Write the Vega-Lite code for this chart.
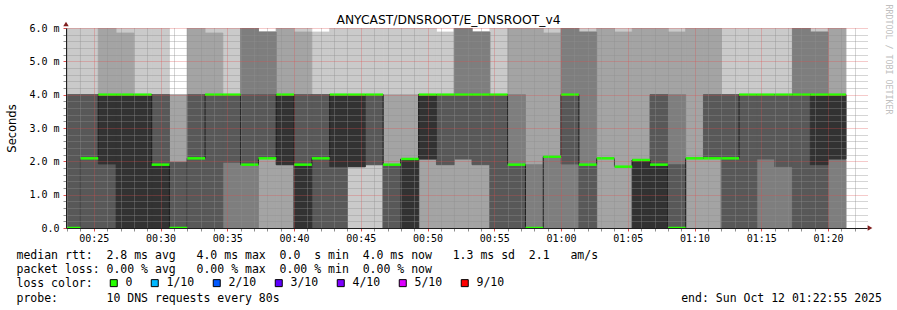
{
"$schema":"https://vega.github.io/schema/vega-lite/v6.json",
"width":801,"height":200,
"autosize":{"type":"none"},
"padding":{"left":66,"top":28,"right":30,"bottom":82},
"background":"white",
"config":{"view":{"stroke":null}},
"datasets":{
"steps":[
{"t":"2025-10-12T00:22:40Z","e":"2025-10-12T00:24:00Z","p1":0,"p2":0,"p3":0,"p4":0,"p5":0,"p6":0,"p7":4,"p8":4,"p9":4,"p10":6,"med":0,"loss":"0"},
{"t":"2025-10-12T00:24:00Z","e":"2025-10-12T00:25:20Z","p1":0,"p2":0,"p3":0,"p4":0,"p5":2.09,"p6":2.09,"p7":4,"p8":4,"p9":4,"p10":6,"med":2.09,"loss":"0"},
{"t":"2025-10-12T00:25:20Z","e":"2025-10-12T00:26:40Z","p1":0,"p2":0,"p3":0,"p4":0,"p5":1.92,"p6":4,"p7":4,"p8":4,"p9":6,"p10":6,"med":4,"loss":"0"},
{"t":"2025-10-12T00:26:40Z","e":"2025-10-12T00:28:00Z","p1":0,"p2":0,"p3":0,"p4":0,"p5":0,"p6":4,"p7":4,"p8":4,"p9":5.85,"p10":6,"med":4,"loss":"0"},
{"t":"2025-10-12T00:28:00Z","e":"2025-10-12T00:29:20Z","p1":0,"p2":0,"p3":0,"p4":0,"p5":0,"p6":4,"p7":4,"p8":4,"p9":4,"p10":6,"med":4,"loss":"0"},
{"t":"2025-10-12T00:29:20Z","e":"2025-10-12T00:30:40Z","p1":0,"p2":0,"p3":0,"p4":0,"p5":0,"p6":1.9,"p7":4,"p8":4,"p9":4,"p10":6,"med":1.9,"loss":"0"},
{"t":"2025-10-12T00:30:40Z","e":"2025-10-12T00:32:00Z","p1":0,"p2":0,"p3":0,"p4":0,"p5":0,"p6":0,"p7":1.97,"p8":1.97,"p9":4,"p10":4,"med":0,"loss":"0"},
{"t":"2025-10-12T00:32:00Z","e":"2025-10-12T00:33:20Z","p1":0,"p2":0,"p3":0,"p4":0,"p5":2.09,"p6":2.09,"p7":4,"p8":4,"p9":6,"p10":6,"med":2.09,"loss":"0"},
{"t":"2025-10-12T00:33:20Z","e":"2025-10-12T00:34:40Z","p1":0,"p2":0,"p3":0,"p4":0,"p5":4,"p6":4,"p7":4,"p8":4,"p9":5.85,"p10":6,"med":4,"loss":"0"},
{"t":"2025-10-12T00:34:40Z","e":"2025-10-12T00:36:00Z","p1":0,"p2":0,"p3":0,"p4":1.97,"p5":4,"p6":4,"p7":4,"p8":4,"p9":4,"p10":6,"med":4,"loss":"0"},
{"t":"2025-10-12T00:36:00Z","e":"2025-10-12T00:37:20Z","p1":0,"p2":0,"p3":0,"p4":1.9,"p5":1.9,"p6":1.9,"p7":4,"p8":6,"p9":6,"p10":6,"med":1.9,"loss":"0"},
{"t":"2025-10-12T00:37:20Z","e":"2025-10-12T00:38:40Z","p1":0,"p2":0,"p3":2.09,"p4":2.09,"p5":2.09,"p6":2.09,"p7":4,"p8":5.88,"p9":5.88,"p10":5.88,"med":2.09,"loss":"0"},
{"t":"2025-10-12T00:38:40Z","e":"2025-10-12T00:40:00Z","p1":0,"p2":0,"p3":1.9,"p4":1.9,"p5":1.9,"p6":4,"p7":4,"p8":4,"p9":6,"p10":6,"med":4,"loss":"0"},
{"t":"2025-10-12T00:40:00Z","e":"2025-10-12T00:41:20Z","p1":0,"p2":0,"p3":0,"p4":0,"p5":0,"p6":1.9,"p7":4,"p8":4,"p9":5.88,"p10":6,"med":1.9,"loss":"0"},
{"t":"2025-10-12T00:41:20Z","e":"2025-10-12T00:42:40Z","p1":0,"p2":0,"p3":0,"p4":0,"p5":2.09,"p6":2.09,"p7":4,"p8":4,"p9":4,"p10":5.88,"med":2.09,"loss":"0"},
{"t":"2025-10-12T00:42:40Z","e":"2025-10-12T00:44:00Z","p1":0,"p2":0,"p3":0,"p4":0,"p5":1.84,"p6":4,"p7":4,"p8":4,"p9":4,"p10":6,"med":4,"loss":"0"},
{"t":"2025-10-12T00:44:00Z","e":"2025-10-12T00:45:20Z","p1":0,"p2":1.84,"p3":1.84,"p4":1.84,"p5":1.84,"p6":4,"p7":4,"p8":4,"p9":4,"p10":6,"med":4,"loss":"0"},
{"t":"2025-10-12T00:45:20Z","e":"2025-10-12T00:46:40Z","p1":0,"p2":1.9,"p3":1.9,"p4":1.9,"p5":4,"p6":4,"p7":4,"p8":4,"p9":4,"p10":6,"med":4,"loss":"0"},
{"t":"2025-10-12T00:46:40Z","e":"2025-10-12T00:48:00Z","p1":0,"p2":0,"p3":0,"p4":0,"p5":1.9,"p6":1.9,"p7":1.9,"p8":1.9,"p9":4,"p10":6,"med":1.9,"loss":"0"},
{"t":"2025-10-12T00:48:00Z","e":"2025-10-12T00:49:20Z","p1":0,"p2":0,"p3":0,"p4":0,"p5":0,"p6":2.07,"p7":2.07,"p8":2.07,"p9":4,"p10":6,"med":2.07,"loss":"0"},
{"t":"2025-10-12T00:49:20Z","e":"2025-10-12T00:50:40Z","p1":0,"p2":0,"p3":2.07,"p4":2.07,"p5":2.07,"p6":4,"p7":4,"p8":4,"p9":4,"p10":6,"med":4,"loss":"0"},
{"t":"2025-10-12T00:50:40Z","e":"2025-10-12T00:52:00Z","p1":0,"p2":0,"p3":1.9,"p4":1.9,"p5":4,"p6":4,"p7":4,"p8":4,"p9":4,"p10":5.88,"med":4,"loss":"0"},
{"t":"2025-10-12T00:52:00Z","e":"2025-10-12T00:53:20Z","p1":0,"p2":0,"p3":2.07,"p4":2.07,"p5":4,"p6":4,"p7":4,"p8":6,"p9":6,"p10":6,"med":4,"loss":"0"},
{"t":"2025-10-12T00:53:20Z","e":"2025-10-12T00:54:40Z","p1":0,"p2":0,"p3":1.9,"p4":1.9,"p5":4,"p6":4,"p7":4,"p8":5.88,"p9":5.88,"p10":5.88,"med":4,"loss":"0"},
{"t":"2025-10-12T00:54:40Z","e":"2025-10-12T00:56:00Z","p1":0,"p2":0,"p3":0,"p4":0,"p5":4,"p6":4,"p7":4,"p8":4,"p9":4,"p10":6,"med":4,"loss":"0"},
{"t":"2025-10-12T00:56:00Z","e":"2025-10-12T00:57:20Z","p1":0,"p2":0,"p3":0,"p4":0,"p5":1.9,"p6":1.9,"p7":1.9,"p8":4,"p9":6,"p10":6,"med":1.9,"loss":"0"},
{"t":"2025-10-12T00:57:20Z","e":"2025-10-12T00:58:40Z","p1":0,"p2":0,"p3":0,"p4":0,"p5":0,"p6":0,"p7":0,"p8":1.9,"p9":6,"p10":6,"med":0,"loss":"0"},
{"t":"2025-10-12T00:58:40Z","e":"2025-10-12T01:00:00Z","p1":0,"p2":0,"p3":0,"p4":2.14,"p5":2.14,"p6":2.14,"p7":2.14,"p8":2.14,"p9":5.85,"p10":6,"med":2.14,"loss":"0"},
{"t":"2025-10-12T01:00:00Z","e":"2025-10-12T01:01:20Z","p1":0,"p2":0,"p3":0,"p4":1.92,"p5":4,"p6":4,"p7":4,"p8":6,"p9":6,"p10":6,"med":4,"loss":"0"},
{"t":"2025-10-12T01:01:20Z","e":"2025-10-12T01:02:40Z","p1":0,"p2":0,"p3":0,"p4":0,"p5":1.9,"p6":1.9,"p7":1.9,"p8":5.88,"p9":5.88,"p10":6,"med":1.9,"loss":"0"},
{"t":"2025-10-12T01:02:40Z","e":"2025-10-12T01:04:00Z","p1":0,"p2":0,"p3":2.09,"p4":2.09,"p5":2.09,"p6":2.09,"p7":2.09,"p8":2.09,"p9":6,"p10":6,"med":2.09,"loss":"0"},
{"t":"2025-10-12T01:04:00Z","e":"2025-10-12T01:05:20Z","p1":0,"p2":0,"p3":1.84,"p4":1.84,"p5":1.84,"p6":1.84,"p7":1.84,"p8":1.84,"p9":5.88,"p10":6,"med":1.84,"loss":"0"},
{"t":"2025-10-12T01:05:20Z","e":"2025-10-12T01:06:40Z","p1":0,"p2":0,"p3":0,"p4":0,"p5":0,"p6":2.04,"p7":2.04,"p8":2.04,"p9":6,"p10":6,"med":2.04,"loss":"0"},
{"t":"2025-10-12T01:06:40Z","e":"2025-10-12T01:08:00Z","p1":0,"p2":0,"p3":0,"p4":0,"p5":0,"p6":1.9,"p7":4,"p8":4,"p9":6,"p10":6,"med":1.9,"loss":"0"},
{"t":"2025-10-12T01:08:00Z","e":"2025-10-12T01:09:20Z","p1":0,"p2":0,"p3":0,"p4":0,"p5":0,"p6":0,"p7":1.9,"p8":4,"p9":5.88,"p10":6,"med":0,"loss":"0"},
{"t":"2025-10-12T01:09:20Z","e":"2025-10-12T01:10:40Z","p1":0,"p2":0,"p3":2.09,"p4":2.09,"p5":2.09,"p6":2.09,"p7":2.09,"p8":2.09,"p9":6,"p10":6,"med":2.09,"loss":"0"},
{"t":"2025-10-12T01:10:40Z","e":"2025-10-12T01:12:00Z","p1":0,"p2":0,"p3":2.09,"p4":2.09,"p5":2.09,"p6":2.09,"p7":4,"p8":4,"p9":6,"p10":6,"med":2.09,"loss":"0"},
{"t":"2025-10-12T01:12:00Z","e":"2025-10-12T01:13:20Z","p1":0,"p2":0,"p3":0,"p4":0,"p5":2.09,"p6":2.09,"p7":4,"p8":4,"p9":4,"p10":6,"med":2.09,"loss":"0"},
{"t":"2025-10-12T01:13:20Z","e":"2025-10-12T01:14:40Z","p1":0,"p2":0,"p3":0,"p4":0,"p5":4,"p6":4,"p7":4,"p8":4,"p9":4,"p10":6,"med":4,"loss":"0"},
{"t":"2025-10-12T01:14:40Z","e":"2025-10-12T01:16:00Z","p1":0,"p2":0,"p3":0,"p4":2.07,"p5":4,"p6":4,"p7":4,"p8":4,"p9":4,"p10":6,"med":4,"loss":"0"},
{"t":"2025-10-12T01:16:00Z","e":"2025-10-12T01:17:20Z","p1":0,"p2":0,"p3":0,"p4":1.84,"p5":4,"p6":4,"p7":4,"p8":4,"p9":4,"p10":6,"med":4,"loss":"0"},
{"t":"2025-10-12T01:17:20Z","e":"2025-10-12T01:18:40Z","p1":0,"p2":0,"p3":0,"p4":0,"p5":4,"p6":4,"p7":4,"p8":6,"p9":6,"p10":6,"med":4,"loss":"0"},
{"t":"2025-10-12T01:18:40Z","e":"2025-10-12T01:20:00Z","p1":0,"p2":0,"p3":0,"p4":0,"p5":1.9,"p6":4,"p7":4,"p8":5.88,"p9":5.88,"p10":6,"med":4,"loss":"0"},
{"t":"2025-10-12T01:20:00Z","e":"2025-10-12T01:21:20Z","p1":0,"p2":0,"p3":0,"p4":2.07,"p5":2.07,"p6":4,"p7":4,"p8":4,"p9":6,"p10":6,"med":4,"loss":"0"}
],
"losscolors":[{"loss":"0"},{"loss":"1/10"},{"loss":"2/10"},{"loss":"3/10"},{"loss":"4/10"},{"loss":"5/10"},{"loss":"9/10"}]
},
"layer":[
{"data":{"name":"steps"},
 "layer":[
  {"transform":[{"filter":"datum.p1 < datum.p10"}],
   "mark":{"type":"rect","color":"#cacaca","stroke":"#cacaca","strokeWidth":0.8,"clip":true},
   "encoding":{
    "x":{"field":"t","type":"temporal",
     "scale":{"type":"utc","domain":[1760228575000,1760232175000],"nice":false},
     "axis":{"orient":"bottom","tickCount":200,
      "values":[1760228580000,1760228640000,1760228700000,1760228760000,1760228820000,1760228880000,1760228940000,1760229000000,1760229060000,1760229120000,1760229180000,1760229240000,1760229300000,1760229360000,1760229420000,1760229480000,1760229540000,1760229600000,1760229660000,1760229720000,1760229780000,1760229840000,1760229900000,1760229960000,1760230020000,1760230080000,1760230140000,1760230200000,1760230260000,1760230320000,1760230380000,1760230440000,1760230500000,1760230560000,1760230620000,1760230680000,1760230740000,1760230800000,1760230860000,1760230920000,1760230980000,1760231040000,1760231100000,1760231160000,1760231220000,1760231280000,1760231340000,1760231400000,1760231460000,1760231520000,1760231580000,1760231640000,1760231700000,1760231760000,1760231820000,1760231880000,1760231940000,1760232000000,1760232060000,1760232120000],
      "labelExpr":"(round(datum.value / 60000) % 5) == 0 ? utcFormat(datum.value, '%H:%M') : ''",
      "labelFont":"DejaVu Sans Mono","labelFontSize":10,"labelColor":"#000000","labelPadding":2,"labelOverlap":false,"labelFlush":false,"labelAngle":0,
      "tickSize":3,"tickColor":{"condition":{"test":"(round(datum.value / 60000) % 5) == 0","value":"#de4f4f"},"value":"#8f8f8f"},
      "grid":true,"gridColor":{"condition":{"test":"(round(datum.value / 60000) % 5) == 0","value":"#de4f4f"},"value":"#8f8f8f"},
      "gridOpacity":{"condition":{"test":"(round(datum.value / 60000) % 5) == 0","value":0.6},"value":0.75},
      "gridDash":[1,1],"gridWidth":1,
      "domainColor":"#1f1f1f","domainWidth":1,"zindex":1,
      "title":["median rtt:\u00a0\u00a02.8 ms avg\u00a0\u00a0\u00a04.0 ms max\u00a0\u00a00.0\u00a0\u00a0s min\u00a0\u00a04.0 ms now\u00a0\u00a0\u00a01.3 ms sd\u00a0\u00a02.1\u00a0\u00a0\u00a0am/s",
               "packet loss:\u00a00.00 % avg\u00a0\u00a0\u00a00.00 % max\u00a0\u00a00.00 % min\u00a0\u00a00.00 % now",
               "loss color:",
               "probe:\u00a0\u00a0\u00a0\u00a0\u00a0\u00a0\u00a010 DNS requests every 80s\u00a0\u00a0\u00a0\u00a0\u00a0\u00a0\u00a0\u00a0\u00a0\u00a0\u00a0\u00a0\u00a0\u00a0\u00a0\u00a0\u00a0\u00a0\u00a0\u00a0\u00a0\u00a0\u00a0\u00a0\u00a0\u00a0\u00a0\u00a0\u00a0\u00a0\u00a0\u00a0\u00a0\u00a0\u00a0\u00a0\u00a0\u00a0\u00a0\u00a0\u00a0\u00a0\u00a0\u00a0\u00a0\u00a0\u00a0\u00a0\u00a0\u00a0\u00a0\u00a0\u00a0\u00a0\u00a0\u00a0\u00a0\u00a0end: Sun Oct 12 01:22:55 2025"],
      "titleFont":"DejaVu Sans Mono","titleFontSize":11.5,"titleFontWeight":"normal","titleColor":"#000000",
      "titleAnchor":"start","titleAlign":"left","titleBaseline":"top","titleX":-50,"titleY":21.5,"titleLineHeight":14.2}},
    "x2":{"field":"e"},
    "y":{"field":"p1","type":"quantitative","scale":{"domain":[0,6],"nice":false},
     "axis":{"orient":"left","tickCount":200,"values":[0,0.2,0.4,0.6,0.8,1,1.2,1.4,1.6,1.8,2,2.2,2.4,2.6,2.8,3,3.2,3.4,3.6,3.8,4,4.2,4.4,4.6,4.8,5,5.2,5.4,5.6,5.8,6],
      "labelExpr":"abs(datum.value - round(datum.value)) < 0.001 ? (datum.value == 0 ? '0.0' : format(datum.value, '.1f') + ' m') : ''",
      "labelFont":"DejaVu Sans Mono","labelFontSize":10,"labelColor":"#000000","labelPadding":4,"labelOverlap":false,"labelFlush":false,
      "tickSize":3,"tickColor":{"condition":{"test":"abs(datum.value - round(datum.value)) < 0.001","value":"#de4f4f"},"value":"#8f8f8f"},
      "grid":true,"gridColor":{"condition":{"test":"abs(datum.value - round(datum.value)) < 0.001","value":"#de4f4f"},"value":"#8f8f8f"},
      "gridOpacity":{"condition":{"test":"abs(datum.value - round(datum.value)) < 0.001","value":0.6},"value":0.75},
      "gridDash":[1,1],"gridWidth":1,
      "domainColor":"#1f1f1f","domainWidth":1,"zindex":1,
      "title":"Seconds","titleFont":"DejaVu Sans","titleFontSize":11.5,"titleFontWeight":"normal","titleColor":"#000000",
      "titleAngle":-90,"titleX":-51,"titleY":100,"titleAlign":"center","titleBaseline":"alphabetic"}},
    "y2":{"field":"p10"}}},
  {"transform":[{"filter":"datum.p2 < datum.p9"}],
   "mark":{"type":"rect","color":"#a4a4a4","stroke":"#a4a4a4","strokeWidth":0.8,"clip":true},
   "encoding":{"x":{"field":"t","type":"temporal"},"x2":{"field":"e"},"y":{"field":"p2","type":"quantitative"},"y2":{"field":"p9"}}},
  {"transform":[{"filter":"datum.p3 < datum.p8"}],
   "mark":{"type":"rect","color":"#7e7e7e","stroke":"#7e7e7e","strokeWidth":0.8,"clip":true},
   "encoding":{"x":{"field":"t","type":"temporal"},"x2":{"field":"e"},"y":{"field":"p3","type":"quantitative"},"y2":{"field":"p8"}}},
  {"transform":[{"filter":"datum.p4 < datum.p7"}],
   "mark":{"type":"rect","color":"#585858","stroke":"#585858","strokeWidth":0.8,"clip":true},
   "encoding":{"x":{"field":"t","type":"temporal"},"x2":{"field":"e"},"y":{"field":"p4","type":"quantitative"},"y2":{"field":"p7"}}},
  {"transform":[{"filter":"datum.p5 < datum.p6"}],
   "mark":{"type":"rect","color":"#323232","stroke":"#323232","strokeWidth":0.8,"clip":true},
   "encoding":{"x":{"field":"t","type":"temporal"},"x2":{"field":"e"},"y":{"field":"p5","type":"quantitative"},"y2":{"field":"p6"}}},
  {"mark":{"type":"line","interpolate":"step-after","color":"#202020","strokeWidth":1,"clip":true},
   "encoding":{"x":{"field":"t","type":"temporal"},"y":{"field":"med","type":"quantitative"}}}
 ]},
{"data":{"name":"steps"},
 "mark":{"type":"rule","strokeWidth":2.5,"clip":true,"color":"#26ff00"},
 "encoding":{
  "x":{"field":"t","type":"temporal",
   "axis":{"orient":"top","labels":false,"ticks":false,"domain":false,"grid":false,
    "title":"ANYCAST/DNSROOT/E_DNSROOT_v4","titleFont":"DejaVu Sans","titleFontSize":12.3,"titleFontWeight":"normal","titleColor":"#000000",
    "titleX":382,"titleY":-4.5,"titleAlign":"center","titleBaseline":"alphabetic"}},
  "x2":{"field":"e"},
  "y":{"field":"med","type":"quantitative",
   "axis":{"orient":"right","labels":false,"ticks":false,"domain":false,"grid":false,
    "title":"RRDTOOL / TOBI OETIKER","titleFont":"DejaVu Sans Mono","titleFontSize":8.3,"titleFontWeight":"normal","titleColor":"#c0c0c0",
    "titleAngle":90,"titleX":18,"titleY":-24,"titleAlign":"left","titleBaseline":"alphabetic"}}}},
{"data":{"name":"losscolors"},
 "mark":{"type":"square","opacity":0},
 "encoding":{
  "fill":{"field":"loss","type":"nominal",
   "scale":{"domain":["0","1/10","2/10","3/10","4/10","5/10","9/10"],"range":["#26ff00","#00b8ff","#0059ff","#5e00ff","#7e00ff","#dd00ff","#ff0000"]},
   "legend":{"orient":"none","legendX":42,"legendY":249,"direction":"horizontal","columns":7,"title":null,
    "symbolType":"square","symbolSize":49,"symbolStrokeColor":"#000000","symbolStrokeWidth":1,"symbolOpacity":1,
    "labelFont":"DejaVu Sans Mono","labelFontSize":11.5,"labelColor":"#000000","labelOffset":6,"columnPadding":16}}}},
{"data":{"values":[{"a":1}]},
 "mark":{"type":"point","shape":"triangle-up","filled":true,"color":"#801f1f","opacity":1,"size":30,"yOffset":-4},
 "encoding":{
  "x":{"datum":1760228575000,"type":"temporal","axis":null},
  "y":{"datum":6,"type":"quantitative","axis":null}}},
{"data":{"values":[{"a":1}]},
 "mark":{"type":"point","shape":"triangle-right","filled":true,"color":"#801f1f","opacity":1,"size":30,"xOffset":3},
 "encoding":{
  "x":{"datum":1760232175000,"type":"temporal","axis":null},
  "y":{"datum":0,"type":"quantitative","axis":null}}}
],
"resolve":{"axis":{"x":"independent","y":"independent"}}
}
